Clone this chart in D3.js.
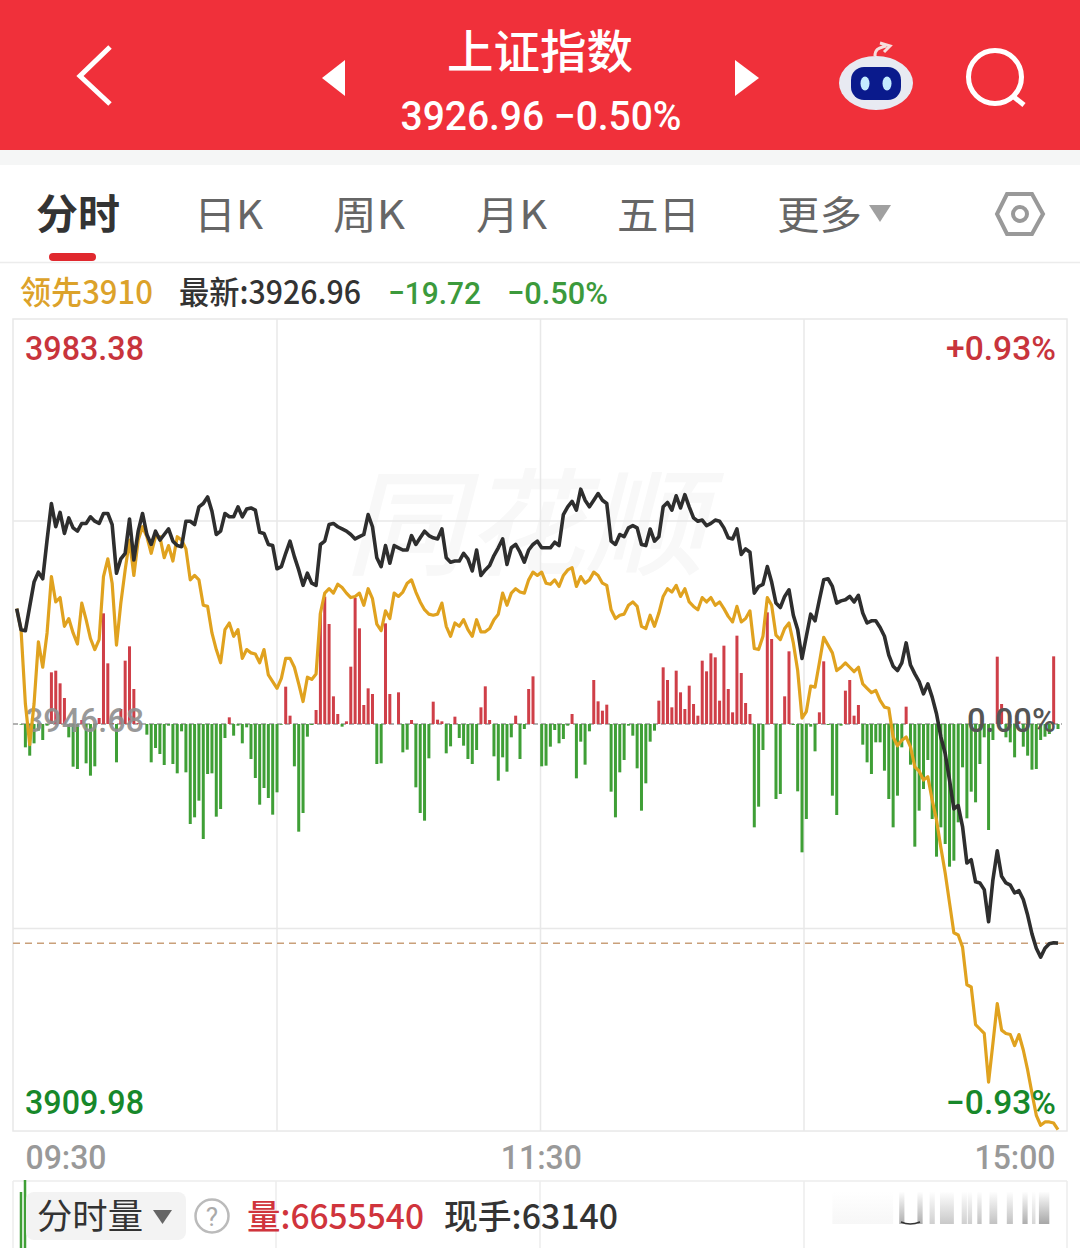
<!DOCTYPE html>
<html>
<head>
<meta charset="utf-8">
<style>
  html, body { margin: 0; padding: 0; background: #fff; }
  svg { display: block; }
  text { font-family: Roboto, "Noto Sans CJK SC", sans-serif; }
  .cjk { font-family: "Noto Sans CJK SC", sans-serif; }
</style>
<script src="https://cdn.jsdelivr.net/npm/d3@7"></script>
</head>
<body>
<div id="chart"></div>
<script>
// index price, one value per minute
const price = [
  3957.2,3955.3,3955.2,3957.4,3959.6,3960.5,3959.9,3963.4,3966.7,3964.6,
  3965.9,3964.0,3965.4,3964.5,3964.2,3964.9,3964.9,3965.5,3965.1,3964.9,
  3965.8,3965.8,3964.8,3960.4,3961.7,3962.2,3965.3,3961.6,3964.2,3965.8,
  3963.9,3963.0,3964.2,3963.4,3963.9,3964.4,3963.3,3962.9,3962.8,3965.1,
  3965.1,3964.8,3966.4,3966.7,3967.3,3966.0,3963.9,3964.2,3965.8,3965.5,
  3965.5,3966.4,3965.5,3966.2,3966.3,3966.1,3964.1,3964.0,3963.0,3962.9,
  3960.8,3961.0,3962.2,3963.3,3961.9,3960.7,3959.3,3960.4,3959.5,3959.3,
  3963.0,3963.3,3964.8,3964.9,3964.6,3964.4,3964.2,3963.9,3963.5,3963.7,
  3963.9,3965.7,3964.6,3961.8,3961.0,3962.9,3961.3,3962.9,3962.7,3962.5,
  3962.5,3963.8,3963.0,3963.6,3964.2,3963.8,3963.6,3963.5,3964.4,3961.8,
  3961.4,3961.5,3961.5,3962.2,3961.7,3960.6,3962.5,3960.2,3960.7,3961.1,
  3962.0,3962.7,3963.5,3961.2,3962.7,3963.0,3962.3,3961.4,3962.5,3963.0,
  3963.3,3962.7,3962.7,3962.7,3963.2,3962.9,3965.7,3966.4,3966.9,3966.1,
  3968.0,3967.0,3966.4,3967.0,3967.6,3967.0,3966.7,3963.3,3963.0,3963.9,
  3963.7,3964.5,3964.7,3964.5,3963.0,3962.9,3964.4,3963.3,3963.7,3966.4,
  3966.8,3966.1,3967.4,3966.3,3967.5,3966.4,3965.4,3965.1,3965.2,3964.7,
  3964.9,3965.2,3965.1,3964.5,3963.6,3963.5,3964.4,3962.1,3962.6,3962.3,
  3958.6,3959.2,3959.4,3961.0,3959.6,3957.7,3957.3,3958.3,3958.9,3956.6,
  3955.3,3952.7,3954.7,3956.7,3956.1,3958.0,3959.8,3959.9,3959.2,3957.7,
  3957.9,3958.0,3958.3,3957.8,3958.4,3956.8,3955.9,3956.1,3956.1,3955.5,
  3954.7,3953.0,3952.0,3951.6,3952.3,3954.1,3952.1,3951.3,3950.6,3949.5,
  3950.4,3949.2,3947.7,3945.6,3944.1,3941.7,3939.1,3939.4,3937.5,3934.2,
  3934.5,3932.5,3932.4,3931.8,3928.9,3932.7,3935.3,3933.0,3932.4,3932.2,
  3931.5,3931.7,3930.9,3929.5,3927.8,3926.5,3925.7,3926.5,3926.9,3927.0,3926.96
];

// 领先 line
const lead = [
  3957.2,3955.3,3948.6,3944.9,3948.6,3954.2,3951.9,3955.0,3960.1,3957.8,
  3958.2,3955.6,3956.3,3955.0,3954.0,3957.7,3956.2,3954.5,3953.5,3954.4,
  3960.1,3961.7,3959.5,3953.9,3957.7,3960.7,3963.4,3960.2,3963.4,3964.6,
  3963.7,3962.2,3963.7,3963.7,3961.8,3962.9,3961.5,3963.7,3963.4,3962.6,
  3959.8,3960.2,3959.8,3957.5,3957.4,3955.0,3953.5,3952.3,3955.3,3955.9,
  3954.7,3955.3,3952.7,3953.5,3953.2,3953.1,3952.3,3953.5,3951.2,3950.6,
  3950.0,3950.9,3952.7,3952.7,3951.9,3950.4,3948.8,3951.0,3950.8,3951.3,
  3956.8,3958.6,3959.0,3958.6,3959.4,3959.1,3958.6,3958.2,3958.3,3958.6,
  3957.5,3959.0,3958.1,3955.8,3955.2,3957.0,3956.3,3958.6,3958.3,3958.7,
  3959.5,3959.8,3958.7,3957.8,3957.1,3956.7,3956.6,3956.7,3957.7,3955.6,
  3954.7,3955.9,3955.6,3956.2,3955.3,3954.7,3956.2,3955.1,3955.1,3955.4,
  3956.2,3956.7,3958.6,3957.5,3958.6,3959.0,3958.7,3958.6,3959.8,3960.5,
  3960.2,3960.5,3959.5,3959.4,3959.8,3959.2,3960.2,3960.7,3960.9,3959.2,
  3960.1,3959.5,3959.8,3960.5,3960.2,3959.5,3959.3,3957.1,3956.3,3956.6,
  3956.7,3957.5,3957.8,3957.4,3955.6,3955.4,3956.6,3955.6,3956.8,3958.3,
  3959.0,3958.7,3959.3,3958.3,3959.0,3957.8,3957.4,3957.1,3958.2,3957.8,
  3958.2,3957.5,3957.8,3957.2,3956.5,3956.0,3957.4,3956.0,3956.3,3957.0,
  3953.6,3953.5,3954.7,3958.2,3957.5,3954.8,3954.4,3955.4,3955.9,3954.1,
  3951.6,3947.3,3947.9,3950.2,3950.1,3952.3,3954.6,3953.9,3953.2,3951.6,
  3951.9,3952.3,3951.9,3951.5,3951.9,3950.4,3950.0,3949.6,3949.8,3948.9,
  3948.3,3948.2,3945.6,3944.8,3945.3,3945.6,3944.7,3942.9,3942.5,3941.7,
  3942.0,3939.9,3938.1,3935.6,3933.3,3930.6,3927.9,3927.7,3926.6,3923.2,
  3923.0,3919.6,3919.2,3918.8,3914.4,3917.9,3921.5,3919.1,3918.8,3918.7,
  3917.7,3918.7,3917.3,3915.5,3913.4,3911.4,3910.5,3910.8,3910.8,3910.7,3910.1
];

// red / green bars round the zero line
const force = [
  0,-2,-70,-95,-58,-20,-48,-5,155,160,
  122,78,-40,-128,-135,12,-118,-155,-127,18,
  332,182,3,-115,45,190,233,105,3,0,
  -32,-115,-72,-90,-123,-5,-120,-148,-22,-145,
  -300,-280,-230,-345,-150,-148,-278,-255,-42,20,
  -35,-5,-58,-10,-105,-162,-242,-192,-222,-272,
  -205,-2,112,25,-127,-323,-267,-38,-3,42,
  332,382,300,83,30,-8,8,172,378,287,
  57,107,90,-120,-118,302,90,0,95,-85,
  -77,12,-190,-267,-290,-103,67,13,8,-88,
  -67,22,-42,-65,-105,-120,-78,50,113,12,
  -97,-170,-100,-143,-40,25,-105,-15,105,143,
  0,-127,-125,-68,-18,-58,-45,-5,30,-163,
  -53,-122,-22,132,68,40,58,-203,-280,-145,
  -108,-5,-35,-133,-260,-178,-53,-20,70,170,
  132,50,160,95,45,115,60,25,190,158,
  212,200,70,235,105,35,265,153,63,30,
  -310,-248,-78,335,255,-225,-210,83,218,-3,
  -202,-385,-285,-8,-82,35,188,-3,-215,-273,
  -5,100,132,25,57,-62,-115,-150,-55,-55,
  -140,-225,-310,-215,-70,52,-122,-368,-260,-195,
  -108,-285,-398,-310,-360,-428,-410,-295,-130,-283,
  -203,-235,-120,-40,-318,-48,202,60,-40,-55,
  -100,8,-68,-95,-137,-135,-48,-38,-30,203,-15
];

const priceTop = 3983.38;
const priceBottom = 3909.98;
const prevClose = 3946.68;
const lastPrice = 3926.96;

const timeLabels = ['09:30', '11:30', '15:00'];
const timeTicks = [0, 120, 240];
const tabLabels = ['日K', '周K', '月K', '五日', '更多'];

// faded strips in the lower panel, by minute
const fadeFrom = [188, 203.4, 207.6, 210.4, 212.8, 217.8, 219.2, 221.4, 224.2, 228.2, 231.8, 234, 235.6];
const fadeTo =   [202, 204.6, 208.8, 211.6, 216, 219, 220.2, 222.4, 226, 229.6, 233, 234.8, 238];
const fadeStrength = [0.06, 0.6, 0.6, 0.35, 0.4, 0.35, 0.35, 0.45, 0.45, 0.45, 0.6, 0.3, 0.65];

const width = 1080, height = 1248;
const frame = { left: 13, right: 1067, top: 319, bottom: 1131 };

const red = '#cf3f48', green = '#3f9f36';

const svg = d3.select('#chart').append('svg').attr('width', width).attr('height', height);
const defs = svg.append('defs');

let fade = defs.append('linearGradient').attr('id', 'fade').attr('x1', 0).attr('x2', 0).attr('y1', 0).attr('y2', 1);
fade.append('stop').attr('offset', '0%').attr('stop-color', '#777').attr('stop-opacity', 0.02);
fade.append('stop').attr('offset', '100%').attr('stop-color', '#777').attr('stop-opacity', 1);

const label = (str, x, y, size, fill, w, anchor, weight) => {
    let t = svg.append('text').attr('x', x).attr('y', y).attr('font-size', size).attr('fill', fill)
        .attr('text-anchor', anchor || 'start').attr('font-weight', weight || 500).text(str);
    if (w) t.attr('textLength', w).attr('lengthAdjust', 'spacingAndGlyphs');
    return t;
};

// ---- header ----
svg.append('rect').attr('width', width).attr('height', 150).attr('fill', '#f0303a');
svg.append('rect').attr('y', 150).attr('width', width).attr('height', 15).attr('fill', '#f5f6f6');

svg.append('path').attr('d', 'M110,47L80,76L110,104').attr('fill', 'none').attr('stroke', '#fff').attr('stroke-width', 5);
svg.append('path').attr('d', 'M345,60L322,78L345,96Z').attr('fill', '#fff');
svg.append('path').attr('d', 'M735,60L759,78L735,96Z').attr('fill', '#fff');

label('上证指数', 540, 68, 46, '#fff', 186, 'middle', 500).attr('class', 'cjk');
label('3926.96 −0.50%', 541, 130, 40, '#fff', 281, 'middle');

// robot
let robot = svg.append('g');
robot.append('path').attr('d', 'M875,56C875,48 880,48 886,46M880,43L890,46L884,52').attr('fill', 'none').attr('stroke', '#f6dede').attr('stroke-width', 3);
robot.append('ellipse').attr('cx', 876).attr('cy', 83).attr('rx', 37).attr('ry', 27).attr('fill', '#e8eaf2');
robot.append('rect').attr('x', 851).attr('y', 67).attr('width', 50).attr('height', 33).attr('rx', 13).attr('fill', '#0a1a8c');
robot.append('ellipse').attr('cx', 865).attr('cy', 83.5).attr('rx', 4.5).attr('ry', 7).attr('fill', '#c4ecff');
robot.append('ellipse').attr('cx', 887).attr('cy', 83.5).attr('rx', 4.5).attr('ry', 7).attr('fill', '#c4ecff');

// search
svg.append('circle').attr('cx', 995).attr('cy', 77).attr('r', 26.5).attr('fill', 'none').attr('stroke', '#fff').attr('stroke-width', 5);
svg.append('line').attr('x1', 1014).attr('y1', 97).attr('x2', 1024).attr('y2', 105).attr('stroke', '#fff').attr('stroke-width', 5);

// ---- tabs ----
label('分时', 36, 229, 41, '#333', 84, 'start', 700).attr('class', 'cjk');
svg.append('rect').attr('x', 49).attr('y', 253).attr('width', 47).attr('height', 8).attr('rx', 4).attr('fill', '#e0282e');
[[194, 69], [333, 72], [476, 71], [617, 83], [777, 85]].forEach((p, i) => {
    label(tabLabels[i], p[0], 229, 39, '#666', p[1], 'start', 400).attr('class', 'cjk');
});
svg.append('path').attr('d', 'M869,205L891,205L880,222Z').attr('fill', '#a0a0a0');
svg.append('path').attr('d', 'M1007,194L1032,194L1043,214L1032,234L1007,234L997,214Z').attr('fill', 'none').attr('stroke', '#999').attr('stroke-width', 4);
svg.append('circle').attr('cx', 1020).attr('cy', 214).attr('r', 7).attr('fill', 'none').attr('stroke', '#999').attr('stroke-width', 4);
svg.append('line').attr('x1', 0).attr('x2', width).attr('y1', 262.5).attr('y2', 262.5).attr('stroke', '#ececec').attr('stroke-width', 1.5);

// ---- legend row ----
label('领先3910', 20, 304, 32, '#dca22a', 133).attr('class', 'cjk');
label('最新:3926.96', 179, 304, 32, '#333', 182).attr('class', 'cjk');
label('−19.72', 388, 304, 32, '#3c9a3c', 93);
label('−0.50%', 507, 304, 32, '#3c9a3c', 101);

// ---- scales ----
const x = d3.scaleLinear().domain([0, 240]).range([16.7, 1058]);
const y = d3.scaleLinear().domain([priceBottom, priceTop]).range([frame.bottom, frame.top]);
const barY = d3.scaleLinear().domain([-600, 600]).range([924, 524]);   // 3 units to a pixel, zero at 724
const gridX = d3.scaleLinear().domain([0, 240]).range([frame.left, frame.right]);

// ---- watermark ----
label('同花顺', 345, 566, 116, '#f8f8f8', 360, 'start', 500).attr('class', 'cjk').attr('font-style', 'italic');

// ---- grid ----
svg.append('rect').attr('x', frame.left).attr('y', frame.top).attr('width', frame.right - frame.left)
    .attr('height', frame.bottom - frame.top).attr('fill', 'none').attr('stroke', '#e8e8e8').attr('stroke-width', 1.5);

let gridV = d3.axisBottom(gridX).tickValues([60, 120, 180]).tickSize(frame.bottom - frame.top).tickFormat('');
svg.append('g').attr('transform', `translate(0,${frame.top})`).call(gridV)
    .call(g => g.select('.domain').remove())
    .call(g => g.selectAll('line').attr('stroke', '#e8e8e8').attr('stroke-width', 1.5));

let gridH = d3.axisRight(y).tickValues([y.invert(520.5), y.invert(928)]).tickSize(frame.right - frame.left).tickFormat('');
svg.append('g').attr('transform', `translate(${frame.left},0)`).call(gridH)
    .call(g => g.select('.domain').remove())
    .call(g => g.selectAll('line').attr('stroke', '#e8e8e8').attr('stroke-width', 1.5));

svg.append('line').attr('x1', frame.left).attr('x2', 1062).attr('y1', barY(0)).attr('y2', barY(0))
    .attr('stroke', '#999').attr('stroke-width', 1.5).attr('stroke-dasharray', '5,3');

// ---- bars ----
svg.append('g').selectAll('rect').data(force).join('rect')
    .attr('x', (d, i) => x(i) - 1.5)
    .attr('width', 3)
    .attr('y', d => barY(Math.max(d, 0)))
    .attr('height', d => Math.abs(barY(d) - barY(0)))
    .attr('fill', d => d >= 0 ? red : green);

// ---- last price line ----
svg.append('line').attr('x1', frame.left).attr('x2', frame.right).attr('y1', y(lastPrice)).attr('y2', y(lastPrice))
    .attr('stroke', '#c9a07a').attr('stroke-width', 1.5).attr('stroke-dasharray', '7,5');

// ---- y labels ----
label('3946.68', 25, y(prevClose) + 7, 33, '#8f8f8f', 119).attr('opacity', 0.9);
label('0.00%', 1056, y(prevClose) + 7, 33, '#555', 89, 'end');

// ---- lines ----
let line = d3.line().x((d, i) => x(i)).y(d => y(d)).curve(d3.curveLinear);
svg.append('path').attr('d', line(lead)).attr('fill', 'none').attr('stroke', '#e0a21f').attr('stroke-width', 3.2).attr('stroke-linejoin', 'round');
svg.append('path').attr('d', line(price)).attr('fill', 'none').attr('stroke', '#2e2e2e').attr('stroke-width', 3.6).attr('stroke-linejoin', 'round');

label('3983.38', 25, 360, 33, '#c8343c', 119);
label('+0.93%', 1056, 360, 33, '#c8343c', 110, 'end');
label('3909.98', 25, 1114, 33, '#17882a', 119);
label('−0.93%', 1056, 1114, 33, '#17882a', 110, 'end');

// ---- time axis ----
let axisTime = d3.axisBottom(x).tickValues(timeTicks).tickSize(0).tickFormat((d, i) => timeLabels[i]);
svg.append('g').attr('transform', 'translate(0,1131)').call(axisTime)
    .call(g => g.select('.domain').remove())
    .call(g => g.selectAll('text')
        .attr('font-size', 33).attr('fill', '#999').attr('y', 38).attr('dy', 0)
        .attr('font-family', 'Roboto').attr('font-weight', 500)
        .attr('text-anchor', (d, i) => ['start', 'middle', 'end'][i])
        .attr('dx', (d, i) => [8.3, 3.5, -3][i])
        .attr('textLength', 81).attr('lengthAdjust', 'spacingAndGlyphs'));

// ---- lower panel ----
svg.append('line').attr('x1', frame.left).attr('x2', frame.right).attr('y1', 1181).attr('y2', 1181).attr('stroke', '#ececec').attr('stroke-width', 1.5);
[frame.left, 276, 540, 804, frame.right].forEach(gx => {
    svg.append('line').attr('x1', gx).attr('x2', gx).attr('y1', 1181).attr('y2', height).attr('stroke', '#ececec').attr('stroke-width', 1.5);
});
svg.append('line').attr('x1', 21).attr('x2', 21).attr('y1', 1192).attr('y2', height).attr('stroke', green).attr('stroke-width', 2.5);
svg.append('line').attr('x1', 25).attr('x2', 25).attr('y1', 1180).attr('y2', height).attr('stroke', green).attr('stroke-width', 2.5);

svg.append('rect').attr('x', 26).attr('y', 1192).attr('width', 160).attr('height', 48).attr('rx', 8).attr('fill', '#f3f3f3');
label('分时量', 37, 1229, 35, '#333', 106, 'start', 400).attr('class', 'cjk');
svg.append('path').attr('d', 'M153,1210L172,1210L162.5,1224Z').attr('fill', '#666');
svg.append('circle').attr('cx', 212).attr('cy', 1216).attr('r', 16.5).attr('fill', '#fff').attr('stroke', '#bbb').attr('stroke-width', 2.5);
label('?', 212, 1226, 26, '#aaa', null, 'middle', 400);
label('量:6655540', 247, 1229, 34, '#d0343c', 177).attr('class', 'cjk');
label('现手:63140', 444, 1229, 34, '#333', 174).attr('class', 'cjk');

svg.append('g').selectAll('rect').data(fadeFrom).join('rect')
    .attr('x', d => x(d))
    .attr('width', (d, i) => x(fadeTo[i]) - x(d))
    .attr('y', 1192).attr('height', 32)
    .attr('fill', 'url(#fade)')
    .attr('opacity', (d, i) => fadeStrength[i]);
svg.append('path').attr('d', 'M901,1222Q910,1226 920,1222').attr('fill', 'none').attr('stroke', '#333').attr('stroke-width', 1.5);
</script>
</body>
</html>
